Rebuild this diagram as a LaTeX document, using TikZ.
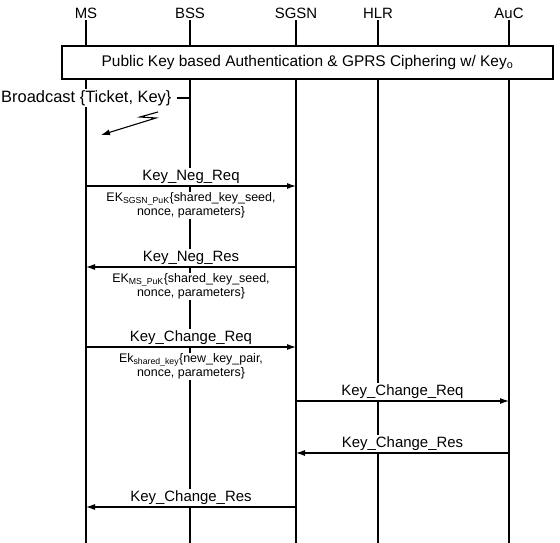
\documentclass[tikz,border=0pt]{standalone}
\usepackage{fontspec}
\setmainfont{Liberation Sans}
\usetikzlibrary{arrows.meta}

\begin{document}
\begin{tikzpicture}[x=1bp, y=-1bp, font=\fontsize{15}{17}\selectfont,
    entity/.style={inner sep=2bp},
    life/.style={line width=1.1bp},
    msg/.style={line width=1.1bp, -{Latex[length=9bp,width=6bp]}},
    lbl/.style={fill=white, inner sep=2bp, above},
    enc/.style={fill=white, inner sep=1bp, below=5bp, align=center, font=\fontsize{12.5}{14}\selectfont}]
    \useasboundingbox (0,0) rectangle (560,543);
    \coordinate (bottom) at (0,543);

    \node (ms) [entity] at (86,13) {MS};
    \node (bss) [entity] at (190,13) {BSS};
    \node (sgsn) [entity] at (296,13) {SGSN};
    \node (hlr) [entity] at (378,13) {HLR};
    \node (auc) [entity] at (509,13) {AuC};
    \foreach \e in {ms,bss,sgsn,hlr,auc}
        \draw [life] (\e.south) -- (\e |- bottom);

    \node (pkbox) [draw, fill=white, line width=1.1bp, minimum width=491bp, minimum height=33bp, font=\fontsize{15.5}{17}\selectfont] at (307.5,62.5) {Public Key based Authentication \& GPRS Ciphering w/ Key\textsubscript{o}};

    \node (bcast) [fill=white, inner sep=1bp, anchor=west, font=\fontsize{16.5}{18}\selectfont] at (0,98) {Broadcast \{Ticket, Key\}};
    \draw [life, shorten <=4bp] (bcast.east) -- (bss |- bcast);
    \coordinate (bolt) at (158,112);
    \coordinate (boltend) at (101,135);
    \draw [msg] (bolt) -- ++(-18,5) -- ++(16,1) -- (boltend);

    \coordinate (r1) at (0,186);
    \coordinate (r2) at (0,267);
    \coordinate (r3) at (0,347);
    \coordinate (r4) at (0,401);
    \coordinate (r5) at (0,453);
    \coordinate (r6) at (0,507);

    \draw [msg] (ms |- r1) -- node [lbl] {Key\_Neg\_Req} node [enc] {EK\textsubscript{SGSN\_PuK}\{shared\_key\_seed,\\nonce, parameters\}} (sgsn |- r1);
    \draw [msg] (sgsn |- r2) -- node [lbl] {Key\_Neg\_Res} node [enc] {EK\textsubscript{MS\_PuK}\{shared\_key\_seed,\\nonce, parameters\}} (ms |- r2);
    \draw [msg] (ms |- r3) -- node [lbl] {Key\_Change\_Req} node [enc] {Ek\textsubscript{shared\_key}\{new\_key\_pair,\\nonce, parameters\}} (sgsn |- r3);
    \draw [msg] (sgsn |- r4) -- node [lbl] {Key\_Change\_Req} (auc |- r4);
    \draw [msg] (auc |- r5) -- node [lbl] {Key\_Change\_Res} (sgsn |- r5);
    \draw [msg] (sgsn |- r6) -- node [lbl] {Key\_Change\_Res} (ms |- r6);
\end{tikzpicture}
\end{document}
